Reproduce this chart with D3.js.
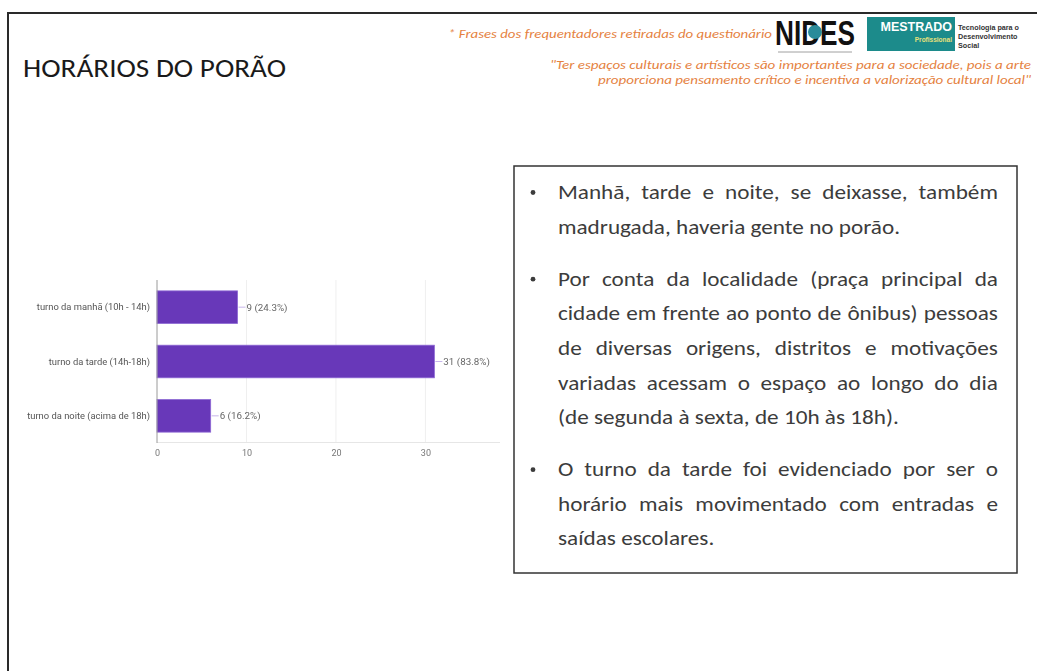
<!DOCTYPE html>
<html>
<head>
<meta charset="utf-8">
<script src="https://cdn.jsdelivr.net/npm/d3@7"></script>
<style>
  html, body { margin: 0; padding: 0; background: #fff; }
  svg { display: block; }
</style>
</head>
<body>
<svg id="slide" width="1037" height="671"></svg>
<script>
// Survey answers: preferred visiting period
const categories = [
  "turno da manhã (10h - 14h)",
  "turno da tarde (14h-18h)",
  "turno da noite (acima de 18h)"
];
const counts = [9, 31, 6];
const percents = ["24.3%", "83.8%", "16.2%"];
const xTicks = [0, 10, 20, 30];

const title = "HORÁRIOS DO PORÃO";
const headerNote = "* Frases dos frequentadores retiradas do questionário";
const quoteLines = [
  "\"Ter espaços culturais e artísticos são importantes para a sociedade, pois a arte",
  "proporciona pensamento crítico e incentiva a valorização cultural local\""
];
const programLines = ["Tecnologia para o", "Desenvolvimento", "Social"];

// Paragraphs of the text box, already broken into lines
const paragraphs = [
  ["Manhã, tarde e noite, se deixasse, também",
   "madrugada, haveria gente no porão."],
  ["Por conta da localidade (praça principal da",
   "cidade em frente ao ponto de ônibus) pessoas",
   "de diversas origens, distritos e motivações",
   "variadas acessam o espaço ao longo do dia",
   "(de segunda à sexta, de 10h às 18h)."],
  ["O turno da tarde foi evidenciado por ser o",
   "horário mais movimentado com entradas e",
   "saídas escolares."]
];

const svg = d3.select("#slide");
const bodyFont = "Carlito, Lato, 'Open Sans', sans-serif";
const chartFont = "Roboto, Arial, 'Liberation Sans', sans-serif";
const orange = "#e5823f";

// soft filter for the pasted chart image
svg.append("defs").append("filter").attr("id", "soft")
  .append("feGaussianBlur").attr("stdDeviation", 0.35);

// Slide frame (runs off the right and bottom edges)
svg.append("path")
  .attr("d", "M8,671 V13 H1037")
  .attr("fill", "none")
  .attr("stroke", "#2a2a2a")
  .attr("stroke-width", 2);

// Title
svg.append("text")
  .attr("x", 23).attr("y", 77)
  .attr("font-family", bodyFont)
  .attr("font-size", 26.5)
  .attr("fill", "#1a1a1a")
  .attr("textLength", 263)
  .attr("lengthAdjust", "spacingAndGlyphs")
  .text(title);

// Header note and quote
svg.append("text")
  .attr("x", 448).attr("y", 38)
  .attr("font-family", bodyFont)
  .attr("font-style", "italic")
  .attr("font-size", 12)
  .attr("fill", orange)
  .attr("textLength", 324)
  .attr("lengthAdjust", "spacingAndGlyphs")
  .text(headerNote);

const quoteX = [550, 598];
const quoteY = [69, 84];
quoteLines.forEach((q, i) => {
  svg.append("text")
    .attr("x", quoteX[i]).attr("y", quoteY[i])
    .attr("font-family", bodyFont)
    .attr("font-style", "italic")
    .attr("font-size", 12)
    .attr("fill", orange)
    .attr("textLength", 1031 - quoteX[i])
    .attr("lengthAdjust", "spacingAndGlyphs")
    .text(q);
});

// NIDES logo
const logo = svg.append("g");
logo.append("text")
  .attr("x", 775).attr("y", 45)
  .attr("font-family", "'Liberation Sans', Arial, sans-serif")
  .attr("font-weight", "bold")
  .attr("font-size", 35)
  .attr("fill", "#111")
  .attr("textLength", 80)
  .attr("lengthAdjust", "spacingAndGlyphs")
  .text("NIDES");
logo.append("circle").attr("cx", 815).attr("cy", 32).attr("r", 7).attr("fill", "#2a8b9a");
logo.append("line").attr("x1", 778).attr("x2", 852).attr("y1", 52).attr("y2", 52)
  .attr("stroke", "#888").attr("stroke-width", 0.8);

// MESTRADO badge
const badgeFont = "'Liberation Sans', Arial, sans-serif";
svg.append("rect").attr("x", 867).attr("y", 17).attr("width", 88).attr("height", 34).attr("fill", "#1c8b8b");
svg.append("text").attr("x", 952).attr("y", 31).attr("text-anchor", "end")
  .attr("font-family", badgeFont).attr("font-weight", "bold")
  .attr("font-size", 12.5).attr("fill", "#fff")
  .text("MESTRADO");
svg.append("text").attr("x", 952).attr("y", 42).attr("text-anchor", "end")
  .attr("font-family", badgeFont).attr("font-weight", "bold")
  .attr("font-size", 6.5).attr("fill", "#e6e07a").text("Profissional");
programLines.forEach((t, i) => {
  svg.append("text").attr("x", 958).attr("y", 30 + i * 9)
    .attr("font-family", badgeFont).attr("font-weight", "bold")
    .attr("font-size", 7.2).attr("fill", "#333").text(t);
});

// ---------- Bar chart ----------
const chart = svg.append("g").attr("font-family", chartFont).attr("filter", "url(#soft)");
const x = d3.scaleLinear().domain([0, 38]).range([157, 497]);
const y = d3.scaleBand().domain(categories).range([280, 443])
  .paddingInner(0.4).paddingOuter(0.2);

// light vertical gridlines
chart.append("g").selectAll("line").data(xTicks.slice(1)).join("line")
  .attr("x1", d => x(d)).attr("x2", d => x(d))
  .attr("y1", 280).attr("y2", 443)
  .attr("stroke", "#efefef").attr("stroke-width", 1);
// baseline under the bars
chart.append("line")
  .attr("x1", x(0)).attr("x2", 500).attr("y1", 442.5).attr("y2", 442.5)
  .attr("stroke", "#e6e6e6");

// x axis labels
const xAxis = d3.axisBottom(x).tickValues(xTicks).tickSize(0).tickPadding(0);
chart.append("g").attr("transform", "translate(0,450)").call(xAxis)
  .call(g => g.select(".domain").remove())
  .call(g => g.selectAll("text")
    .attr("font-family", chartFont).attr("font-size", 9).attr("fill", "#777"));

// bars
const rows = categories.map((c, i) => ({ cat: c, value: counts[i], pct: percents[i] }));
chart.append("g").selectAll("rect").data(rows).join("rect")
  .attr("x", x(0)).attr("y", d => y(d.cat))
  .attr("width", d => x(d.value) - x(0))
  .attr("height", y.bandwidth())
  .attr("fill", "#6837b9")
  .attr("stroke", "#8d68d4").attr("stroke-width", 0.8);

// vertical axis line
chart.append("line")
  .attr("x1", x(0)).attr("x2", x(0)).attr("y1", 280).attr("y2", 443)
  .attr("stroke", "#9a9a9a").attr("stroke-width", 1);

// category labels
const yAxis = d3.axisLeft(y).tickSize(0).tickPadding(7);
chart.append("g").attr("transform", `translate(${x(0)},0)`).call(yAxis)
  .call(g => g.select(".domain").remove())
  .call(g => g.selectAll("text")
    .attr("font-family", chartFont).attr("font-size", 9.4).attr("fill", "#555"));

// value labels with leader lines
const vl = chart.append("g").selectAll("g").data(rows).join("g")
  .attr("transform", d => `translate(${x(d.value)},${y(d.cat) + y.bandwidth() / 2})`);
vl.append("line").attr("x1", 1).attr("x2", 8).attr("stroke", "#b9a2e6").attr("stroke-width", 0.8);
vl.append("text").attr("x", 9).attr("dy", "0.35em")
  .attr("font-size", 9.8).attr("fill", "#666")
  .text(d => `${d.value} (${d.pct})`);

// ---------- Text box ----------
const box = { x0: 514, y0: 166, x1: 1017, y1: 573 };
svg.append("rect")
  .attr("x", box.x0).attr("y", box.y0)
  .attr("width", box.x1 - box.x0).attr("height", box.y1 - box.y0)
  .attr("fill", "#fff").attr("stroke", "#333").attr("stroke-width", 1.5);

const textLeft = 558, textRight = 998;
const lineGap = 34.6, paraGap = 17.5;
const fontSize = 20.5;
const tb = svg.append("g")
  .attr("font-family", bodyFont)
  .attr("font-size", fontSize)
  .attr("fill", "#3c3c3c");

// measure helper
const probe = tb.append("text").attr("x", -1000).attr("y", -1000);
function measure(s) { probe.text(s); return probe.node().getComputedTextLength(); }
// horizontal stretch so the unjustified lines keep their natural width
const sx = 342 / measure(paragraphs[0][1]);
const spaceW = (measure("a a") - measure("aa")) * sx;

let baseY = 199;
paragraphs.forEach((lines, pi) => {
  tb.append("circle").attr("cx", 533).attr("cy", baseY - 6.5).attr("r", 2.4).attr("fill", "#3c3c3c");
  lines.forEach((line, li) => {
    const words = line.split(" ");
    const widths = words.map(w => measure(w) * sx);
    const sum = d3.sum(widths);
    const last = li === lines.length - 1;
    const gap = last ? spaceW : (textRight - textLeft - sum) / (words.length - 1);
    let cx = textLeft;
    words.forEach((w, wi) => {
      tb.append("text")
        .attr("transform", `translate(${cx},${baseY}) scale(${sx},1)`)
        .text(w);
      cx += widths[wi] + gap;
    });
    if (!last) baseY += lineGap;
  });
  baseY += lineGap + paraGap;
});
probe.remove();
</script>
</body>
</html>
